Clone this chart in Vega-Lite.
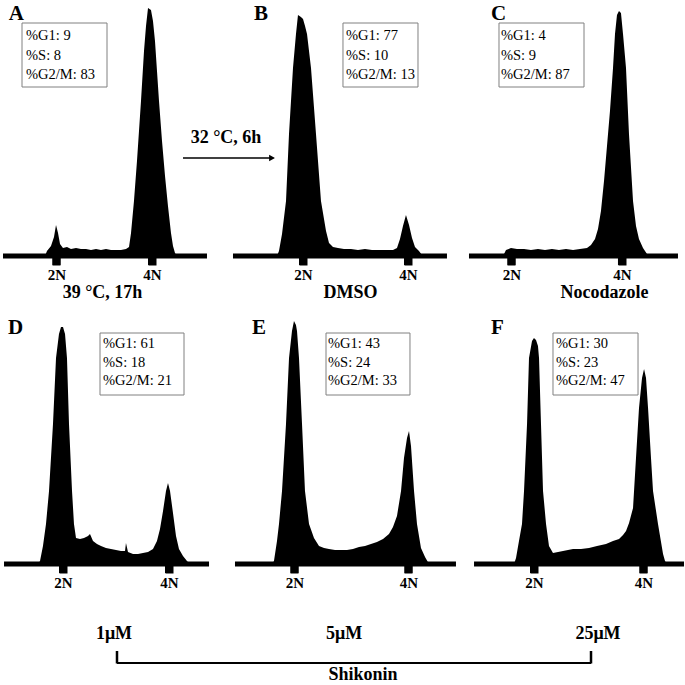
{
"$schema":"https://vega.github.io/schema/vega-lite/v6.json",
"padding":{"left":0,"top":3,"right":0,"bottom":0},
"background":"white",
"datasets":{
"marks":[{"ploidy":2},{"ploidy":4}],
"A":[{"dna":0.880,"count":0},{"dna":1.759,"count":0},{"dna":1.801,"count":10},{"dna":1.885,"count":20},{"dna":1.948,"count":38},{"dna":1.990,"count":62},{"dna":2.032,"count":46},{"dna":2.074,"count":24},{"dna":2.136,"count":16},{"dna":2.220,"count":18},{"dna":2.304,"count":14},{"dna":2.409,"count":16},{"dna":2.513,"count":14},{"dna":2.618,"count":14},{"dna":2.723,"count":12},{"dna":2.828,"count":14},{"dna":2.932,"count":12},{"dna":3.037,"count":14},{"dna":3.142,"count":12},{"dna":3.246,"count":12},{"dna":3.351,"count":12},{"dna":3.456,"count":14},{"dna":3.519,"count":18},{"dna":3.561,"count":46},{"dna":3.623,"count":110},{"dna":3.686,"count":190},{"dna":3.770,"count":310},{"dna":3.833,"count":410},{"dna":3.875,"count":460},{"dna":3.917,"count":496},{"dna":3.979,"count":492},{"dna":4.021,"count":470},{"dna":4.063,"count":430},{"dna":4.105,"count":370},{"dna":4.147,"count":310},{"dna":4.210,"count":230},{"dna":4.273,"count":160},{"dna":4.335,"count":100},{"dna":4.398,"count":46},{"dna":4.440,"count":20},{"dna":4.482,"count":6},{"dna":4.524,"count":0},{"dna":5.152,"count":0}],
"B":[{"dna":0.666,"count":0},{"dna":1.504,"count":0},{"dna":1.542,"count":10},{"dna":1.600,"count":44},{"dna":1.676,"count":110},{"dna":1.733,"count":244},{"dna":1.809,"count":376},{"dna":1.866,"count":444},{"dna":1.904,"count":482},{"dna":1.961,"count":478},{"dna":2.000,"count":474},{"dna":2.038,"count":460},{"dna":2.076,"count":444},{"dna":2.152,"count":376},{"dna":2.247,"count":244},{"dna":2.342,"count":110},{"dna":2.438,"count":50},{"dna":2.495,"count":26},{"dna":2.571,"count":18},{"dna":2.666,"count":16},{"dna":2.780,"count":14},{"dna":2.914,"count":14},{"dna":3.047,"count":12},{"dna":3.180,"count":14},{"dna":3.314,"count":12},{"dna":3.447,"count":12},{"dna":3.580,"count":12},{"dna":3.714,"count":12},{"dna":3.790,"count":16},{"dna":3.847,"count":34},{"dna":3.904,"count":60},{"dna":3.961,"count":82},{"dna":4.019,"count":62},{"dna":4.076,"count":36},{"dna":4.133,"count":18},{"dna":4.209,"count":10},{"dna":4.266,"count":2},{"dna":4.323,"count":0},{"dna":4.742,"count":0}],
"C":[{"dna":1.231,"count":0},{"dna":1.847,"count":0},{"dna":1.901,"count":12},{"dna":1.991,"count":16},{"dna":2.100,"count":14},{"dna":2.227,"count":14},{"dna":2.353,"count":12},{"dna":2.480,"count":14},{"dna":2.607,"count":12},{"dna":2.733,"count":14},{"dna":2.860,"count":12},{"dna":2.987,"count":14},{"dna":3.114,"count":12},{"dna":3.240,"count":14},{"dna":3.367,"count":16},{"dna":3.439,"count":22},{"dna":3.512,"count":34},{"dna":3.566,"count":54},{"dna":3.620,"count":90},{"dna":3.675,"count":150},{"dna":3.729,"count":220},{"dna":3.783,"count":290},{"dna":3.838,"count":376},{"dna":3.874,"count":444},{"dna":3.910,"count":482},{"dna":3.946,"count":490},{"dna":3.982,"count":486},{"dna":4.019,"count":444},{"dna":4.073,"count":376},{"dna":4.127,"count":244},{"dna":4.200,"count":110},{"dna":4.254,"count":60},{"dna":4.308,"count":34},{"dna":4.381,"count":16},{"dna":4.453,"count":4},{"dna":4.489,"count":0},{"dna":5.014,"count":0}],
"D":[{"dna":0.887,"count":0},{"dna":1.528,"count":0},{"dna":1.566,"count":6},{"dna":1.622,"count":36},{"dna":1.679,"count":80},{"dna":1.736,"count":146},{"dna":1.811,"count":280},{"dna":1.868,"count":412},{"dna":1.924,"count":460},{"dna":1.962,"count":474},{"dna":2.000,"count":474},{"dna":2.038,"count":460},{"dna":2.075,"count":412},{"dna":2.113,"count":280},{"dna":2.170,"count":146},{"dna":2.207,"count":80},{"dna":2.245,"count":52},{"dna":2.321,"count":50},{"dna":2.396,"count":52},{"dna":2.472,"count":56},{"dna":2.509,"count":60},{"dna":2.566,"count":46},{"dna":2.641,"count":40},{"dna":2.717,"count":36},{"dna":2.811,"count":32},{"dna":2.905,"count":30},{"dna":3.000,"count":28},{"dna":3.094,"count":26},{"dna":3.170,"count":26},{"dna":3.188,"count":42},{"dna":3.226,"count":24},{"dna":3.321,"count":20},{"dna":3.415,"count":20},{"dna":3.509,"count":22},{"dna":3.604,"count":24},{"dna":3.698,"count":30},{"dna":3.773,"count":46},{"dna":3.830,"count":70},{"dna":3.887,"count":106},{"dna":3.943,"count":146},{"dna":3.981,"count":162},{"dna":4.019,"count":146},{"dna":4.075,"count":102},{"dna":4.132,"count":56},{"dna":4.188,"count":30},{"dna":4.264,"count":16},{"dna":4.339,"count":6},{"dna":4.396,"count":0},{"dna":4.755,"count":0}],
"E":[{"dna":0.956,"count":0},{"dna":1.605,"count":0},{"dna":1.640,"count":6},{"dna":1.693,"count":46},{"dna":1.728,"count":80},{"dna":1.781,"count":146},{"dna":1.851,"count":280},{"dna":1.904,"count":412},{"dna":1.956,"count":466},{"dna":1.991,"count":486},{"dna":2.026,"count":478},{"dna":2.044,"count":466},{"dna":2.079,"count":412},{"dna":2.132,"count":280},{"dna":2.184,"count":146},{"dna":2.255,"count":80},{"dna":2.342,"count":52},{"dna":2.430,"count":36},{"dna":2.518,"count":32},{"dna":2.605,"count":30},{"dna":2.711,"count":28},{"dna":2.816,"count":28},{"dna":2.921,"count":28},{"dna":3.026,"count":30},{"dna":3.132,"count":34},{"dna":3.237,"count":36},{"dna":3.342,"count":40},{"dna":3.447,"count":44},{"dna":3.553,"count":50},{"dna":3.658,"count":60},{"dna":3.728,"count":74},{"dna":3.798,"count":96},{"dna":3.869,"count":146},{"dna":3.921,"count":212},{"dna":3.974,"count":252},{"dna":4.009,"count":266},{"dna":4.044,"count":236},{"dna":4.097,"count":146},{"dna":4.149,"count":80},{"dna":4.219,"count":32},{"dna":4.290,"count":14},{"dna":4.360,"count":0},{"dna":4.833,"count":0}],
"F":[{"dna":0.905,"count":0},{"dna":1.635,"count":0},{"dna":1.672,"count":12},{"dna":1.726,"count":46},{"dna":1.781,"count":80},{"dna":1.818,"count":146},{"dna":1.873,"count":280},{"dna":1.909,"count":412},{"dna":1.964,"count":446},{"dna":2.000,"count":452},{"dna":2.037,"count":448},{"dna":2.073,"count":436},{"dna":2.092,"count":412},{"dna":2.128,"count":280},{"dna":2.165,"count":146},{"dna":2.220,"count":80},{"dna":2.274,"count":36},{"dna":2.347,"count":22},{"dna":2.439,"count":24},{"dna":2.530,"count":26},{"dna":2.621,"count":28},{"dna":2.713,"count":30},{"dna":2.859,"count":30},{"dna":3.005,"count":32},{"dna":3.151,"count":36},{"dna":3.315,"count":40},{"dna":3.443,"count":46},{"dna":3.553,"count":50},{"dna":3.626,"count":58},{"dna":3.681,"count":66},{"dna":3.736,"count":82},{"dna":3.809,"count":112},{"dna":3.863,"count":212},{"dna":3.918,"count":312},{"dna":3.973,"count":372},{"dna":4.010,"count":390},{"dna":4.046,"count":372},{"dna":4.083,"count":312},{"dna":4.137,"count":212},{"dna":4.174,"count":146},{"dna":4.265,"count":80},{"dna":4.357,"count":20},{"dna":4.393,"count":6},{"dna":4.430,"count":0},{"dna":4.740,"count":0}]
},
"config":{
 "view":{"stroke":null},
 "axis":{"domain":false,"grid":false,"ticks":true,"tickColor":"black","tickWidth":8,"tickSize":9,"tickCap":"butt","labelFont":"Liberation Serif","labelFontWeight":"bold","labelFontSize":15,"labelColor":"black","labelPadding":2,"labelOverlap":false,"labelFlush":false,"labelBound":false,"titleFont":"Liberation Serif","titleFontSize":18,"titleFontWeight":"bold","titleColor":"black","titlePadding":1},
 "text":{"font":"Liberation Serif","color":"black"}
},
"columns":3,
"spacing":{"row":58,"column":0},
"bounds":"flush",
"concat":[
{"width":228,"height":250,"layer":[
 {"data":{"name":"A"},"mark":{"type":"area","color":"black"},"encoding":{"x":{"field":"dna","type":"quantitative","scale":{"domain":[0.838,5.613],"nice":false,"zero":false},"axis":{"values":[2,4],"labelExpr":"datum.value + 'N'","title":"39 °C, 17h","titleX":101}},"y":{"field":"count","type":"quantitative","scale":{"domain":[0,500],"nice":false},"axis":null}}},
 {"data":{"values":[{}]},"mark":{"type":"rule","color":"black","strokeWidth":5,"strokeCap":"butt"},"encoding":{"x":{"datum":0.880},"x2":{"datum":5.152},"y":{"datum":0,"axis":null}}},
 {"data":{"name":"marks"},"mark":{"type":"tick","color":"black","orient":"vertical","size":9,"thickness":8,"opacity":1},"encoding":{"x":{"field":"ploidy","type":"quantitative"},"y":{"datum":-9,"axis":null}}},
 {"data":{"values":[{}]},"mark":{"type":"rect","fill":"white","stroke":"#808080","strokeWidth":1},"encoding":{"x":{"datum":1.278},"x2":{"datum":3.058},"y":{"datum":466,"axis":null},"y2":{"datum":338}}},
 {"data":{"values":[{"G1":9,"S":8,"G2M":83}]},"transform":[{"calculate":"['%G1: ' + datum.G1, '%S: ' + datum.S, '%G2/M: ' + datum.G2M]","as":"label"}],"mark":{"type":"text","align":"left","baseline":"top","fontSize":14.5,"lineHeight":19.5},"encoding":{"x":{"datum":1.362},"y":{"datum":454,"axis":null},"text":{"field":"label","type":"nominal"}}},
 {"data":{"values":[{}]},"mark":{"type":"text","text":"A","fontSize":21,"fontWeight":"bold","align":"left","baseline":"alphabetic"},"encoding":{"x":{"datum":1.0},"y":{"datum":472,"axis":null}}}
]},
{"width":228,"height":250,"layer":[
 {"data":{"name":"B"},"mark":{"type":"area","color":"black"},"encoding":{"x":{"field":"dna","type":"quantitative","scale":{"domain":[0.590,4.933],"nice":false,"zero":false},"axis":{"values":[2,4],"labelExpr":"datum.value + 'N'","title":"DMSO","titleX":121}},"y":{"field":"count","type":"quantitative","scale":{"domain":[0,500],"nice":false},"axis":null}}},
 {"data":{"values":[{}]},"mark":{"type":"rule","color":"black","strokeWidth":5,"strokeCap":"butt"},"encoding":{"x":{"datum":0.666},"x2":{"datum":4.742},"y":{"datum":0,"axis":null}}},
 {"data":{"name":"marks"},"mark":{"type":"tick","color":"black","orient":"vertical","size":9,"thickness":8,"opacity":1},"encoding":{"x":{"field":"ploidy","type":"quantitative"},"y":{"datum":-9,"axis":null}}},
 {"data":{"values":[{}]},"mark":{"type":"rect","fill":"white","stroke":"#808080","strokeWidth":1},"encoding":{"x":{"datum":2.761},"x2":{"datum":4.190},"y":{"datum":466,"axis":null},"y2":{"datum":338}}},
 {"data":{"values":[{"G1":77,"S":10,"G2M":13}]},"transform":[{"calculate":"['%G1: ' + datum.G1, '%S: ' + datum.S, '%G2/M: ' + datum.G2M]","as":"label"}],"mark":{"type":"text","align":"left","baseline":"top","fontSize":14.5,"lineHeight":19.5},"encoding":{"x":{"datum":2.819},"y":{"datum":454,"axis":null},"text":{"field":"label","type":"nominal"}}},
 {"data":{"values":[{}]},"mark":{"type":"text","text":"B","fontSize":21,"fontWeight":"bold","align":"left","baseline":"alphabetic"},"encoding":{"x":{"datum":1.066},"y":{"datum":472,"axis":null}}},
 {"data":{"values":[{}]},"mark":{"type":"rule","color":"black","strokeWidth":1.5},"encoding":{"x":{"datum":-0.286},"x2":{"datum":1.43},"y":{"datum":196,"axis":null}}},
 {"data":{"values":[{}]},"mark":{"type":"point","shape":"triangle-right","filled":true,"color":"black","size":45,"opacity":1},"encoding":{"x":{"datum":1.41},"y":{"datum":196,"axis":null}}},
 {"data":{"values":[{}]},"mark":{"type":"text","text":"32 °C, 6h","fontSize":18,"fontWeight":"bold","align":"center","baseline":"alphabetic"},"encoding":{"x":{"datum":0.533},"y":{"datum":226,"axis":null}}}
]},
{"width":228,"height":250,"layer":[
 {"data":{"name":"C"},"mark":{"type":"area","color":"black"},"encoding":{"x":{"field":"dna","type":"quantitative","scale":{"domain":[1.014,5.141],"nice":false,"zero":false},"axis":{"values":[2,4],"labelExpr":"datum.value + 'N'","title":"Nocodazole","titleX":147}},"y":{"field":"count","type":"quantitative","scale":{"domain":[0,500],"nice":false},"axis":null}}},
 {"data":{"values":[{}]},"mark":{"type":"rule","color":"black","strokeWidth":5,"strokeCap":"butt"},"encoding":{"x":{"datum":1.231},"x2":{"datum":5.014},"y":{"datum":0,"axis":null}}},
 {"data":{"name":"marks"},"mark":{"type":"tick","color":"black","orient":"vertical","size":9,"thickness":8,"opacity":1},"encoding":{"x":{"field":"ploidy","type":"quantitative"},"y":{"datum":-9,"axis":null}}},
 {"data":{"values":[{}]},"mark":{"type":"rect","fill":"white","stroke":"#808080","strokeWidth":1},"encoding":{"x":{"datum":1.774},"x2":{"datum":3.313},"y":{"datum":466,"axis":null},"y2":{"datum":338}}},
 {"data":{"values":[{"G1":4,"S":9,"G2M":87}]},"transform":[{"calculate":"['%G1: ' + datum.G1, '%S: ' + datum.S, '%G2/M: ' + datum.G2M]","as":"label"}],"mark":{"type":"text","align":"left","baseline":"top","fontSize":14.5,"lineHeight":19.5},"encoding":{"x":{"datum":1.810},"y":{"datum":454,"axis":null},"text":{"field":"label","type":"nominal"}}},
 {"data":{"values":[{}]},"mark":{"type":"text","text":"C","fontSize":21,"fontWeight":"bold","align":"left","baseline":"alphabetic"},"encoding":{"x":{"datum":1.629},"y":{"datum":472,"axis":null}}}
]},
{"width":228,"height":250,"layer":[
 {"data":{"name":"D"},"mark":{"type":"area","color":"black"},"encoding":{"x":{"field":"dna","type":"quantitative","scale":{"domain":[0.830,5.132],"nice":false,"zero":false},"axis":{"values":[2,4],"labelExpr":"datum.value + 'N'","title":null}},"y":{"field":"count","type":"quantitative","scale":{"domain":[0,500],"nice":false},"axis":null}}},
 {"data":{"values":[{}]},"mark":{"type":"rule","color":"black","strokeWidth":5,"strokeCap":"butt"},"encoding":{"x":{"datum":0.887},"x2":{"datum":4.755},"y":{"datum":0,"axis":null}}},
 {"data":{"name":"marks"},"mark":{"type":"tick","color":"black","orient":"vertical","size":9,"thickness":8,"opacity":1},"encoding":{"x":{"field":"ploidy","type":"quantitative"},"y":{"datum":-9,"axis":null}}},
 {"data":{"values":[{}]},"mark":{"type":"rect","fill":"white","stroke":"#808080","strokeWidth":1},"encoding":{"x":{"datum":2.698},"x2":{"datum":4.283},"y":{"datum":462,"axis":null},"y2":{"datum":338}}},
 {"data":{"values":[{"G1":61,"S":18,"G2M":21}]},"transform":[{"calculate":"['%G1: ' + datum.G1, '%S: ' + datum.S, '%G2/M: ' + datum.G2M]","as":"label"}],"mark":{"type":"text","align":"left","baseline":"top","fontSize":14.5,"lineHeight":18.5},"encoding":{"x":{"datum":2.755},"y":{"datum":454,"axis":null},"text":{"field":"label","type":"nominal"}}},
 {"data":{"values":[{}]},"mark":{"type":"text","text":"D","fontSize":21,"fontWeight":"bold","align":"left","baseline":"alphabetic"},"encoding":{"x":{"datum":0.962},"y":{"datum":460,"axis":null}}},
 {"data":{"values":[{}]},"mark":{"type":"text","text":"1μM","fontSize":18,"fontWeight":"bold","align":"center","baseline":"middle"},"encoding":{"x":{"datum":2.962},"y":{"datum":-140,"axis":null}}}
]},
{"width":228,"height":250,"layer":[
 {"data":{"name":"E"},"mark":{"type":"area","color":"black"},"encoding":{"x":{"field":"dna","type":"quantitative","scale":{"domain":[0.851,4.851],"nice":false,"zero":false},"axis":{"values":[2,4],"labelExpr":"datum.value + 'N'","title":null}},"y":{"field":"count","type":"quantitative","scale":{"domain":[0,500],"nice":false},"axis":null}}},
 {"data":{"values":[{}]},"mark":{"type":"rule","color":"black","strokeWidth":5,"strokeCap":"butt"},"encoding":{"x":{"datum":0.956},"x2":{"datum":4.833},"y":{"datum":0,"axis":null}}},
 {"data":{"name":"marks"},"mark":{"type":"tick","color":"black","orient":"vertical","size":9,"thickness":8,"opacity":1},"encoding":{"x":{"field":"ploidy","type":"quantitative"},"y":{"datum":-9,"axis":null}}},
 {"data":{"values":[{}]},"mark":{"type":"rect","fill":"white","stroke":"#808080","strokeWidth":1},"encoding":{"x":{"datum":2.553},"x2":{"datum":4.026},"y":{"datum":462,"axis":null},"y2":{"datum":338}}},
 {"data":{"values":[{"G1":43,"S":24,"G2M":33}]},"transform":[{"calculate":"['%G1: ' + datum.G1, '%S: ' + datum.S, '%G2/M: ' + datum.G2M]","as":"label"}],"mark":{"type":"text","align":"left","baseline":"top","fontSize":14.5,"lineHeight":18.5},"encoding":{"x":{"datum":2.588},"y":{"datum":454,"axis":null},"text":{"field":"label","type":"nominal"}}},
 {"data":{"values":[{}]},"mark":{"type":"text","text":"E","fontSize":21,"fontWeight":"bold","align":"left","baseline":"alphabetic"},"encoding":{"x":{"datum":1.255},"y":{"datum":460,"axis":null}}},
 {"data":{"values":[{}]},"mark":{"type":"text","text":"5μM","fontSize":18,"fontWeight":"bold","align":"center","baseline":"middle"},"encoding":{"x":{"datum":2.869},"y":{"datum":-140,"axis":null}}},
 {"data":{"values":[{}]},"mark":{"type":"rule","color":"black","strokeWidth":2},"encoding":{"x":{"datum":-1.114},"x2":{"datum":7.202},"y":{"datum":-198,"axis":null}}},
 {"data":{"values":[{}]},"mark":{"type":"rule","color":"black","strokeWidth":2.5},"encoding":{"x":{"datum":-1.114},"y":{"datum":-199,"axis":null},"y2":{"datum":-174}}},
 {"data":{"values":[{}]},"mark":{"type":"rule","color":"black","strokeWidth":2.5},"encoding":{"x":{"datum":7.202},"y":{"datum":-199,"axis":null},"y2":{"datum":-174}}},
 {"data":{"values":[{}]},"mark":{"type":"text","text":"Shikonin","fontSize":18,"fontWeight":"bold","align":"center","baseline":"middle"},"encoding":{"x":{"datum":3.202},"y":{"datum":-222,"axis":null}}}
]},
{"width":228,"height":250,"layer":[
 {"data":{"name":"F"},"mark":{"type":"area","color":"black"},"encoding":{"x":{"field":"dna","type":"quantitative","scale":{"domain":[0.594,4.758],"nice":false,"zero":false},"axis":{"values":[2,4],"labelExpr":"datum.value + 'N'","title":null}},"y":{"field":"count","type":"quantitative","scale":{"domain":[0,500],"nice":false},"axis":null}}},
 {"data":{"values":[{}]},"mark":{"type":"rule","color":"black","strokeWidth":5,"strokeCap":"butt"},"encoding":{"x":{"datum":0.905},"x2":{"datum":4.740},"y":{"datum":0,"axis":null}}},
 {"data":{"name":"marks"},"mark":{"type":"tick","color":"black","orient":"vertical","size":9,"thickness":8,"opacity":1},"encoding":{"x":{"field":"ploidy","type":"quantitative"},"y":{"datum":-9,"axis":null}}},
 {"data":{"values":[{}]},"mark":{"type":"rect","fill":"white","stroke":"#808080","strokeWidth":1},"encoding":{"x":{"datum":2.347},"x2":{"datum":3.900},"y":{"datum":462,"axis":null},"y2":{"datum":338}}},
 {"data":{"values":[{"G1":30,"S":23,"G2M":47}]},"transform":[{"calculate":"['%G1: ' + datum.G1, '%S: ' + datum.S, '%G2/M: ' + datum.G2M]","as":"label"}],"mark":{"type":"text","align":"left","baseline":"top","fontSize":14.5,"lineHeight":18.5},"encoding":{"x":{"datum":2.402},"y":{"datum":454,"axis":null},"text":{"field":"label","type":"nominal"}}},
 {"data":{"values":[{}]},"mark":{"type":"text","text":"F","fontSize":21,"fontWeight":"bold","align":"left","baseline":"alphabetic"},"encoding":{"x":{"datum":1.215},"y":{"datum":460,"axis":null}}},
 {"data":{"values":[{}]},"mark":{"type":"text","text":"25μM","fontSize":18,"fontWeight":"bold","align":"center","baseline":"middle"},"encoding":{"x":{"datum":3.169},"y":{"datum":-140,"axis":null}}}
]}
]
}
